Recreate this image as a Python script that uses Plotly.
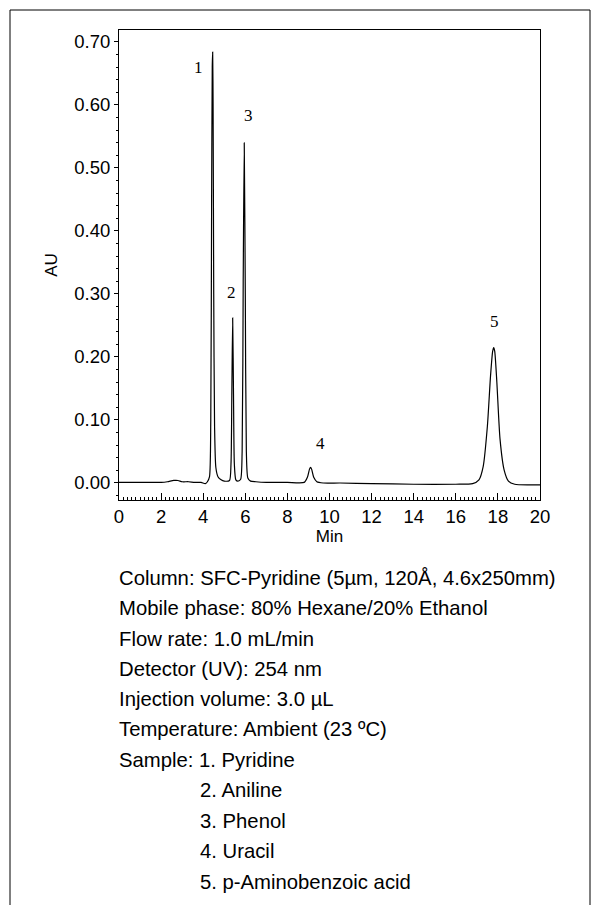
"""SFC-Pyridine column chromatogram recreated with Plotly."""

import plotly.graph_objects as go

# Chromatogram trace (time in min, absorbance in AU)
time_min = [
    0.0, 1.0, 2.0, 2.3, 2.6, 2.8, 3.0, 3.3, 3.6, 3.9, 4.1, 4.2, 4.3,
    4.36, 4.40, 4.43, 4.45, 4.47, 4.50, 4.54, 4.60, 4.70, 4.85, 5.0,
    5.25, 5.32, 5.36, 5.40, 5.44, 5.48, 5.55, 5.65, 5.78, 5.85, 5.90,
    5.95, 6.00, 6.05, 6.12, 6.25, 6.5, 7.0, 8.0, 8.8, 8.95, 9.05, 9.1,
    9.15, 9.25, 9.4, 9.7, 10.5, 12.0, 14.0, 16.0, 16.8, 17.1, 17.3,
    17.5, 17.65, 17.75, 17.8, 17.85, 17.95, 18.1, 18.3, 18.5, 18.8,
    19.5, 20.0,
]
absorbance = [
    0.001, 0.001, 0.001, 0.002, 0.004, 0.004, 0.002, 0.002, 0.001, 0.001,
    -0.001, 0.002, 0.010, 0.10, 0.45, 0.66, 0.684, 0.60, 0.30, 0.09,
    0.025, 0.010, 0.005, 0.003, 0.004, 0.03, 0.14, 0.262, 0.14, 0.03,
    0.005, 0.003, 0.006, 0.05, 0.32, 0.54, 0.30, 0.05, 0.008, 0.003,
    0.002, 0.001, 0.001, 0.001, 0.009, 0.022, 0.025, 0.022, 0.009,
    0.002, 0.000, 0.000, -0.001, -0.002, -0.002, -0.001, 0.005, 0.026,
    0.09, 0.17, 0.209, 0.215, 0.209, 0.16, 0.07, 0.02, 0.003, -0.002,
    -0.003, -0.003,
]

# Peak numbers and their label positions
peak_labels = ["1", "2", "3", "4", "5"]
peak_x = [3.8, 5.35, 6.15, 9.55, 17.85]
peak_y = [0.66, 0.303, 0.583, 0.063, 0.257]

info_lines = [
    "Column: SFC-Pyridine (5µm, 120Å, 4.6x250mm)",
    "Mobile phase: 80% Hexane/20% Ethanol",
    "Flow rate: 1.0 mL/min",
    "Detector (UV): 254 nm",
    "Injection volume: 3.0 µL",
    "Temperature: Ambient (23 ºC)",
    "Sample: 1. Pyridine",
]
sample_lines = [
    "2. Aniline",
    "3. Phenol",
    "4. Uracil",
    "5. p-Aminobenzoic acid",
]

W, H = 599, 905
OFF = 8  # page body margin seen in the screenshot
fig = go.Figure()

fig.add_trace(
    go.Scatter(
        x=time_min,
        y=absorbance,
        mode="lines",
        line=dict(color="black", width=1.2, shape="spline", smoothing=0.6),
        showlegend=False,
    )
)

for label, px, py in zip(peak_labels, peak_x, peak_y):
    fig.add_annotation(
        x=px, y=py, text=label, showarrow=False,
        font=dict(family="Liberation Serif", size=17, color="black"),
    )

# Pixel positions in the reference, mapped to paper coords
plot_top, plot_bottom = 30, 500
plot_left, plot_right = 119, 540


def paper_y(py):
    return (plot_bottom - py) / (plot_bottom - plot_top)


def paper_x(px):
    return (px - plot_left) / (plot_right - plot_left)


line_y = 578
for text in info_lines:
    fig.add_annotation(
        xref="paper", yref="paper", x=paper_x(117), y=paper_y(line_y),
        text=text, showarrow=False, xanchor="left", yanchor="middle",
        font=dict(family="Liberation Sans", size=20.3, color="black"),
    )
    line_y += 30.3
for text in sample_lines:
    fig.add_annotation(
        xref="paper", yref="paper", x=paper_x(198), y=paper_y(line_y),
        text=text, showarrow=False, xanchor="left", yanchor="middle",
        font=dict(family="Liberation Sans", size=20.3, color="black"),
    )
    line_y += 30.7

# Outer frame
fig.add_shape(
    type="rect", xref="paper", yref="paper",
    x0=paper_x(10), x1=paper_x(590), y0=paper_y(920), y1=paper_y(10),
    line=dict(color="black", width=1),
)

fig.update_layout(
    width=W,
    height=H,
    margin=dict(l=plot_left - OFF, r=W - plot_right + OFF,
                t=plot_top - OFF, b=H - plot_bottom + OFF),
    paper_bgcolor="white",
    plot_bgcolor="white",
    font=dict(family="Liberation Sans", size=18.5, color="black"),
    xaxis=dict(
        range=[0, 20], dtick=2, tickformat="d",
        title=dict(text="Min", standoff=2, font=dict(size=17)),
        showline=True, mirror=True, linecolor="black", linewidth=1,
        showgrid=False, zeroline=False,
        ticks="inside", ticklen=7, tickcolor="black",
        minor=dict(dtick=0.2, ticks="inside", ticklen=3, tickcolor="black"),
    ),
    yaxis=dict(
        range=[-0.027, 0.719], dtick=0.1, tickformat=".2f",
        title=dict(text="AU", standoff=12, font=dict(size=17)),
        showline=True, mirror=True, linecolor="black", linewidth=1,
        showgrid=False, zeroline=False,
        ticks="outside", ticklen=4, tickcolor="black",
        minor=dict(dtick=0.02, ticks="outside", ticklen=2, tickcolor="black"),
    ),
)

fig.write_html("out.html")
